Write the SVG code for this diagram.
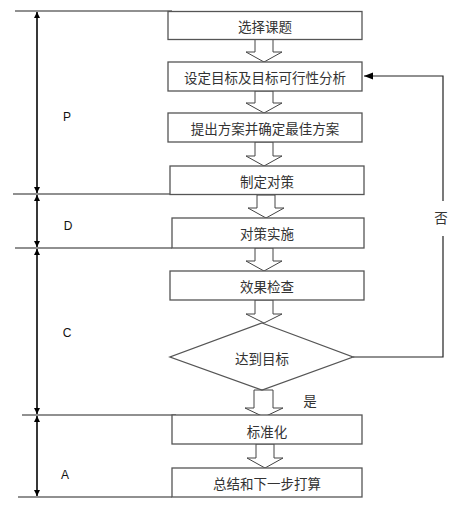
<svg xmlns="http://www.w3.org/2000/svg" width="473" height="508" viewBox="0 0 473 508">
<style>
.box{fill:#fff;stroke:#555;stroke-width:1.3}
.t{font-family:"Noto Sans CJK SC","Liberation Sans",sans-serif;font-size:13.5px;fill:#333;text-anchor:middle;dominant-baseline:central}
.lbl{font-family:"Liberation Sans",Arial,sans-serif;font-size:12px;fill:#111;text-anchor:middle;dominant-baseline:central}
.blk{fill:#fff;stroke:#444;stroke-width:1}
.ln{stroke:#222;stroke-width:1.2;fill:none}
.dim{stroke:#222;stroke-width:1.8;fill:none}
</style>
<defs>
<marker id="ah" viewBox="0 0 10 10" refX="10" refY="5" markerWidth="6" markerHeight="6" orient="auto-start-reverse" markerUnits="userSpaceOnUse">
<path d="M0,0 L10,5 L0,10 z" fill="#000"/>
</marker>
<marker id="fb" viewBox="0 0 10 10" refX="10" refY="5" markerWidth="9" markerHeight="9" orient="auto" markerUnits="userSpaceOnUse">
<path d="M0,1 L10,5 L0,9 z" fill="#000"/>
</marker>
</defs>
<rect width="473" height="508" fill="#fff"/>
<g id="phase-lines">
<line class="ln" x1="15" y1="11" x2="172" y2="11"/>
<line class="ln" x1="13" y1="194" x2="170" y2="194"/>
<line class="ln" x1="15" y1="248" x2="172" y2="248"/>
<line class="ln" x1="22" y1="415" x2="176" y2="415"/>
<line class="ln" x1="18" y1="497" x2="172" y2="497"/>
</g>
<g id="connectors">
<line class="dim" x1="37" y1="12" x2="37" y2="193" marker-start="url(#ah)" marker-end="url(#ah)"/>
<line class="dim" x1="37" y1="195" x2="37" y2="247" marker-start="url(#ah)" marker-end="url(#ah)"/>
<line class="dim" x1="37" y1="249" x2="37" y2="414" marker-start="url(#ah)" marker-end="url(#ah)"/>
<line class="dim" x1="37" y1="416" x2="37" y2="496" marker-start="url(#ah)" marker-end="url(#ah)"/>
<path class="ln" d="M353,357 L443,357 L443,236"/>
<path class="ln" d="M443,201 L443,76 L364,76" marker-end="url(#fb)"/>
<path class="blk" d="M255,39 L273,39 L273,52 L282,52 L264,62 L246,52 L255,52 Z"/>
<path class="blk" d="M255,91 L273,91 L273,103 L282,103 L264,113 L246,103 L255,103 Z"/>
<path class="blk" d="M255,142 L273,142 L273,156 L282,156 L264,166 L246,156 L255,156 Z"/>
<path class="blk" d="M257,195 L275,195 L275,208 L284,208 L266,218 L248,208 L257,208 Z"/>
<path class="blk" d="M255,248 L273,248 L273,261 L282,261 L264,271 L246,261 L255,261 Z"/>
<path class="blk" d="M255,300 L273,300 L273,314 L282,314 L264,323 L246,314 L255,314 Z"/>
<path class="blk" d="M254,390 L273,390 L273,408 L283,408 L264,417 L245,408 L254,408 Z"/>
<path class="blk" d="M256,444 L274,444 L274,458 L283,458 L265,468 L247,458 L256,458 Z"/>
</g>
<g id="n1"><rect class="box" x="168" y="11.5" width="194" height="28"/><text class="t" x="265" y="26">选择课题</text></g>
<g id="n2"><rect class="box" x="168" y="62" width="194" height="29"/><text class="t" x="265" y="77">设定目标及目标可行性分析</text></g>
<g id="n3"><rect class="box" x="168" y="113" width="194" height="29"/><text class="t" x="265" y="128">提出方案并确定最佳方案</text></g>
<g id="n4"><rect class="box" x="170" y="166" width="194" height="28.5"/><text class="t" x="267" y="181">制定对策</text></g>
<g id="n5"><rect class="box" x="172" y="218" width="192" height="30"/><text class="t" x="267" y="233">对策实施</text></g>
<g id="n6"><rect class="box" x="170" y="271" width="194" height="29"/><text class="t" x="267" y="286">效果检查</text></g>
<g id="n7"><path class="box" d="M262,323 L353,357 L262,390 L170,357 Z" style="fill:none"/><text class="t" x="262" y="358">达到目标</text></g>
<g id="n8"><rect class="box" x="172" y="415" width="190" height="29"/><text class="t" x="267" y="431">标准化</text></g>
<g id="n9"><rect class="box" x="172" y="468" width="190" height="29"/><text class="t" x="267" y="483">总结和下一步打算</text></g>
<g id="labels">
<text class="lbl" x="67" y="117">P</text>
<text class="lbl" x="68" y="226">D</text>
<text class="lbl" x="67" y="333">C</text>
<text class="lbl" x="65" y="475">A</text>
<text class="t" x="441" y="217">否</text>
<text class="t" x="310" y="400">是</text>
</g>
</svg>
